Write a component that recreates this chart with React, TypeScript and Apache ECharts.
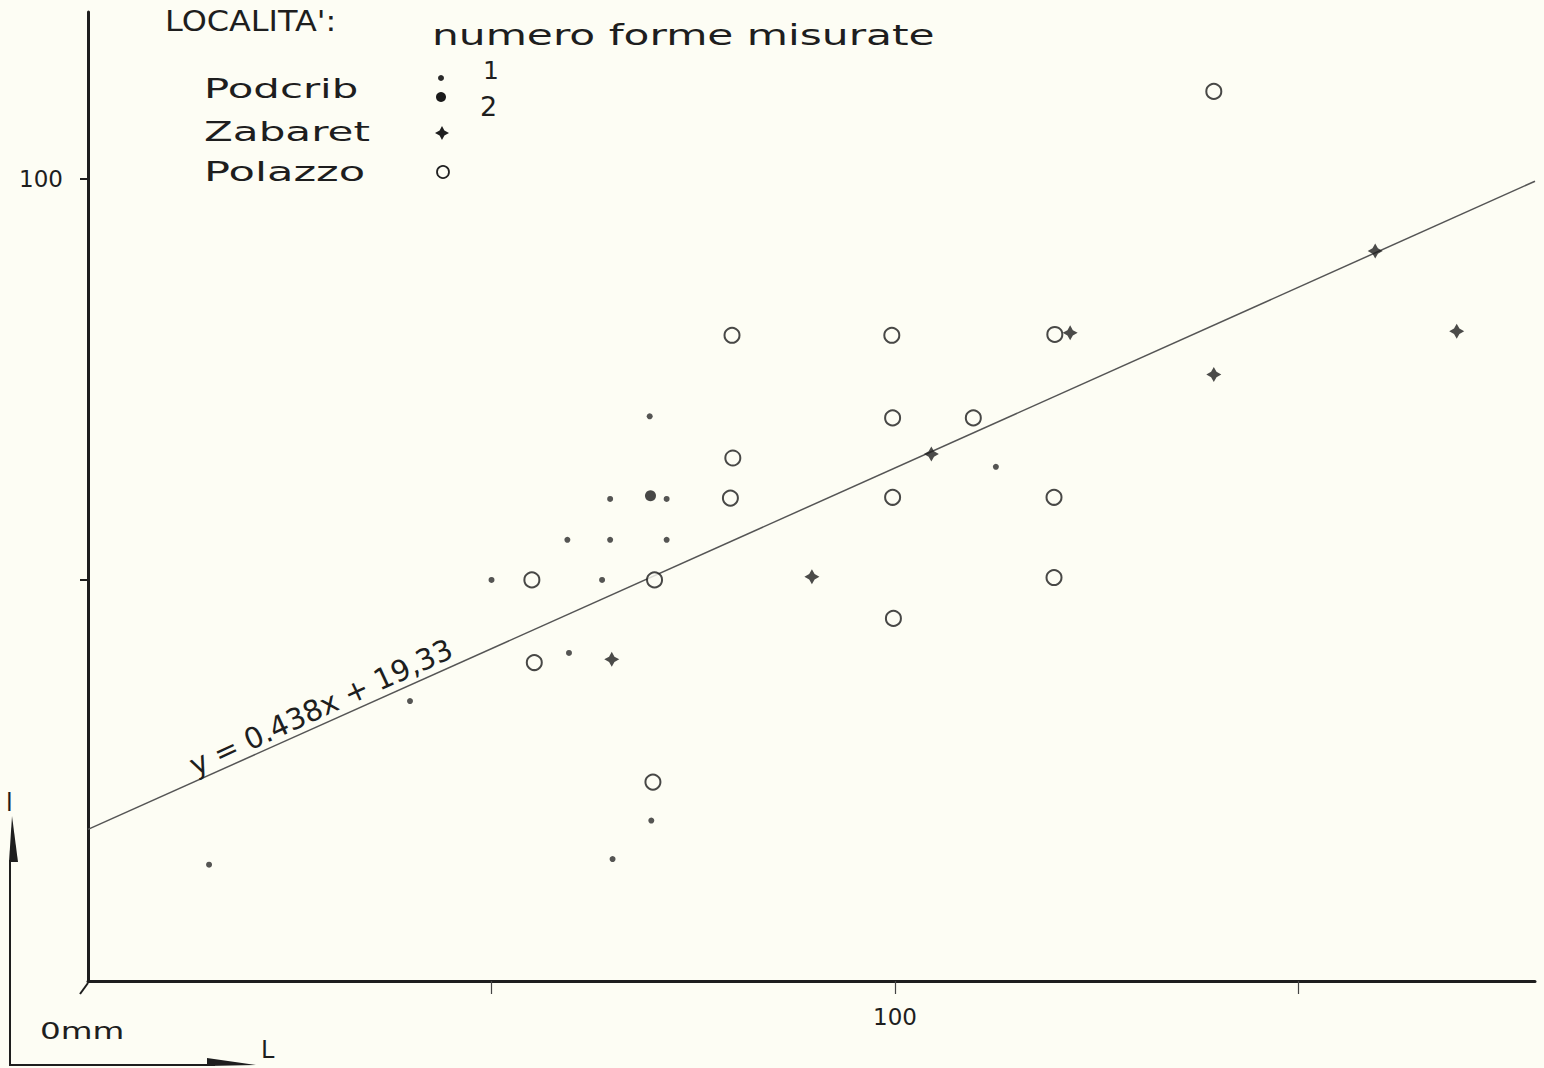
import React, { useEffect, useRef } from "react";
import * as echarts from "echarts";

// Podcrib, 1 measured form
const podcrib1: [number, number][] = [
  [15.0, 14.5], [39.9, 34.9], [50.0, 50.0], [59.4, 55.0], [59.6, 40.9],
  [63.7, 50.0], [64.7, 60.1], [64.7, 55.0], [65.0, 15.2], [69.6, 70.4],
  [69.8, 20.0], [71.7, 60.1], [71.7, 55.0], [112.5, 64.1],
];
// Podcrib, 2 measured forms
const podcrib2: [number, number][] = [[69.7, 60.5]];
// Zabaret
const zabaret: [number, number][] = [
  [64.9, 40.1], [89.7, 50.4], [104.5, 65.7], [121.7, 80.8],
  [139.5, 75.6], [159.5, 91.0], [169.6, 81.0],
];
// Polazzo
const polazzo: [number, number][] = [
  [55.0, 50.0], [55.3, 39.7], [70.2, 50.0], [70.0, 24.8], [79.8, 80.5],
  [79.9, 65.2], [79.6, 60.2], [99.6, 80.5], [99.7, 70.2], [99.7, 60.3],
  [99.8, 45.2], [109.7, 70.2], [119.8, 80.6], [119.7, 60.3], [119.7, 50.3],
  [139.5, 110.9],
];
// regression line, end points as drawn
const regressionLine: [number, number][] = [[0, 18.9], [179.3, 99.7]];

const xTickValues = [50, 100, 150];
const xLabelValues = [100];
const yTickValues = [50, 100];
const yLabelValues = [100];

const legendTitle = "LOCALITA':";
const legendSubtitle = "numero forme misurate";
const legendNames = ["Podcrib", "Zabaret", "Polazzo"];
const legendCounts = ["1", "2"];
const equationText = "y = 0.438x + 19,33";
const originText = "0mm";
const yIndicator = "l";
const xIndicator = "L";

const BG = "#fdfdf4";
const INK = "#1e1e1e";
const FONT = '"DejaVu Sans", sans-serif';
const STAR = "path://M5,0 L6.8,3.2 L10,5 L6.8,6.8 L5,10 L3.2,6.8 L0,5 L3.2,3.2 Z";

function txt(text: string, x: number, y: number, size: number, scaleX = 1, extra: any = {}) {
  return {
    type: "text",
    x,
    y,
    scaleX,
    z: 10,
    ...extra,
    style: {
      text,
      fontSize: size,
      fontFamily: FONT,
      fill: INK,
      textAlign: extra.align || "left",
      align: extra.align || "left",
      textVerticalAlign: "middle",
      verticalAlign: "middle",
    },
  };
}

export default function App() {
  const ref = useRef<HTMLDivElement>(null);
  useEffect(() => {
    if (!ref.current) return;
    const chart = echarts.init(ref.current, undefined, { renderer: "svg" });
    const valueSet = (vals: number[]) => (v: number) => (vals.includes(v) ? String(v) : "");
    const option: any = {
      animation: false,
      backgroundColor: BG,
      grid: { left: 88, right: 9, top: 12, bottom: 87, containLabel: false },
      xAxis: {
        type: "value",
        min: 0,
        max: 179.3,
        interval: 50,
        splitLine: { show: false },
        axisLine: { show: true, lineStyle: { color: INK, width: 3 } },
        axisTick: { show: true, length: 13, customValues: xTickValues, lineStyle: { color: "#444", width: 1.2 } },
        axisLabel: {
          show: true,
          customValues: xLabelValues,
          formatter: valueSet(xLabelValues),
          margin: 24,
          fontSize: 23,
          fontFamily: FONT,
          color: INK,
        },
      },
      yAxis: {
        type: "value",
        min: 0,
        max: 120.8,
        interval: 50,
        splitLine: { show: false },
        axisLine: { show: true, lineStyle: { color: INK, width: 3 } },
        axisTick: { show: true, length: 8, customValues: yTickValues, lineStyle: { color: INK, width: 2 } },
        axisLabel: {
          show: true,
          customValues: yLabelValues,
          formatter: valueSet(yLabelValues),
          margin: 25,
          fontSize: 23,
          fontFamily: FONT,
          color: INK,
        },
      },
      series: [
        {
          name: "regression",
          type: "line",
          data: regressionLine,
          symbol: "none",
          lineStyle: { color: "#555", width: 1.5 },
          z: 1,
          silent: true,
        },
        {
          name: "Podcrib 1",
          type: "scatter",
          data: podcrib1,
          symbol: "circle",
          symbolSize: 6,
          itemStyle: { color: "#2a2a2a" },
          z: 3,
        },
        {
          name: "Podcrib 2",
          type: "scatter",
          data: podcrib2,
          symbol: "circle",
          symbolSize: 11,
          itemStyle: { color: "#1a1a1a" },
          z: 3,
        },
        {
          name: "Zabaret",
          type: "scatter",
          data: zabaret,
          symbol: STAR,
          symbolSize: 15,
          itemStyle: { color: "#1e1e1e" },
          z: 3,
        },
        {
          name: "Polazzo",
          type: "scatter",
          data: polazzo,
          symbol: "circle",
          symbolSize: 15,
          itemStyle: { color: BG, borderColor: "#1a1a1a", borderWidth: 2 },
          z: 3,
        },
      ],
      graphic: [
        // legend
        txt(legendTitle, 165, 21, 29, 1.1),
        txt(legendSubtitle, 432, 35, 29, 1.46),
        txt(legendNames[0], 204, 88, 27, 1.55),
        txt(legendNames[1], 204, 131, 27, 1.56),
        txt(legendNames[2], 204, 172, 27, 1.6),
        txt(legendCounts[0], 483, 70, 25, 1.0),
        txt(legendCounts[1], 480, 106, 27, 1.0),
        { type: "circle", z: 10, shape: { cx: 441, cy: 78, r: 3 }, style: { fill: "#2a2a2a" } },
        { type: "circle", z: 10, shape: { cx: 441, cy: 97, r: 5 }, style: { fill: "#1a1a1a" } },
        {
          type: "polygon",
          z: 10,
          shape: {
            points: [[442, 126], [444.4, 130.6], [449, 133], [444.4, 135.4], [442, 140], [439.6, 135.4], [435, 133], [439.6, 130.6]],
          },
          style: { fill: "#1e1e1e" },
        },
        { type: "circle", z: 10, shape: { cx: 443, cy: 172, r: 6 }, style: { fill: "none", stroke: "#222", lineWidth: 1.8 } },
        // equation along the line
        txt(equationText, 321, 707, 29, 1.0, { rotation: 0.43, align: "center" }),
        // corner stroke
        { type: "line", z: 10, shape: { x1: 80, y1: 994, x2: 88, y2: 983 }, style: { stroke: INK, lineWidth: 2 } },
        // indicator, bottom left
        { type: "line", z: 10, shape: { x1: 10, y1: 860, x2: 10, y2: 1065 }, style: { stroke: INK, lineWidth: 2 } },
        { type: "polygon", z: 10, shape: { points: [[12, 816], [9, 862], [18, 862]] }, style: { fill: INK } },
        { type: "line", z: 10, shape: { x1: 9, y1: 1065, x2: 215, y2: 1065 }, style: { stroke: INK, lineWidth: 2 } },
        { type: "polygon", z: 10, shape: { points: [[207, 1058], [256, 1065], [207, 1066]] }, style: { fill: INK } },
        txt(yIndicator, 6, 803, 24, 1.0),
        txt(xIndicator, 261, 1050, 24, 1.0),
        txt(originText, 40, 1031, 23, 1.42),
      ],
    };
    chart.setOption(option);
    return () => chart.dispose();
  }, []);
  return (
    <div
      ref={ref}
      style={{ position: "absolute", left: 0, top: 0, width: 1544, height: 1068, background: BG }}
    />
  );
}
